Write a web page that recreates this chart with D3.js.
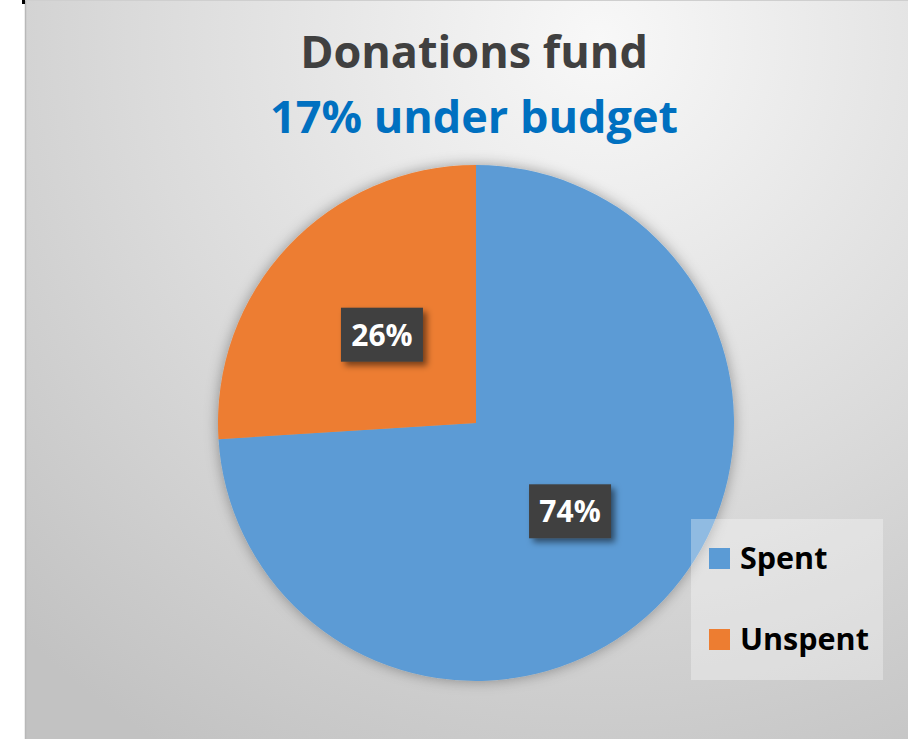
<!DOCTYPE html>
<html>
<head>
<meta charset="utf-8">
<script src="https://cdn.jsdelivr.net/npm/d3@7"></script>
<style>
  html, body { margin: 0; padding: 0; background: #ffffff; }
  svg { display: block; }
  text { font-family: "Open Sans", "Noto Sans", sans-serif; font-weight: 700; }
</style>
</head>
<body>
<svg id="chart" width="908" height="739"></svg>
<script>
// Budget split for the donations fund
const categories = ["Spent", "Unspent"];
const shares = [74, 26];
const colors = ["#5b9bd5", "#ed7d31"];
const titleText = "Donations fund";
const subtitleText = "17% under budget";

const W = 908, H = 739;
const svg = d3.select("#chart");
const defs = svg.append("defs");

// Soft grey background of the chart area
const bg = defs.append("radialGradient")
  .attr("id", "bgGrad")
  .attr("gradientUnits", "userSpaceOnUse")
  .attr("cx", 600).attr("cy", 40).attr("r", 830);
bg.append("stop").attr("offset", "0%").attr("stop-color", "#f8f8f8");
bg.append("stop").attr("offset", "55%").attr("stop-color", "#dbdbdb");
bg.append("stop").attr("offset", "100%").attr("stop-color", "#c2c2c2");

// Halo behind the pie
const halo = defs.append("filter").attr("id", "pieShadow")
  .attr("x", "-20%").attr("y", "-20%").attr("width", "140%").attr("height", "140%");
halo.append("feDropShadow").attr("dx", 0).attr("dy", 0)
  .attr("stdDeviation", 7).attr("flood-color", "#000").attr("flood-opacity", 0.35);

// Shadow under the value boxes
const boxShadow = defs.append("filter").attr("id", "boxShadow")
  .attr("x", "-30%").attr("y", "-30%").attr("width", "160%").attr("height", "160%");
boxShadow.append("feDropShadow").attr("dx", 4).attr("dy", 4)
  .attr("stdDeviation", 3).attr("flood-color", "#000").attr("flood-opacity", 0.5);

const plotX = 25, plotY = 1;
svg.append("rect")
  .attr("x", plotX).attr("y", plotY)
  .attr("width", W - plotX).attr("height", H - plotY)
  .attr("fill", "url(#bgGrad)");
svg.append("line")
  .attr("x1", plotX + 0.5).attr("x2", plotX + 0.5)
  .attr("y1", plotY).attr("y2", H)
  .attr("stroke", "#b8b8b8").attr("stroke-width", 1.5);
svg.append("line")
  .attr("x1", plotX).attr("x2", W)
  .attr("y1", 0.5).attr("y2", 0.5)
  .attr("stroke", "#cfcfcf").attr("stroke-width", 1);
svg.append("rect").attr("x", 22).attr("y", 0).attr("width", 3).attr("height", 4).attr("fill", "#000");

// Titles
svg.append("text")
  .attr("x", 474).attr("y", 68)
  .attr("text-anchor", "middle")
  .attr("font-size", 45)
  .attr("fill", "#404040")
  .text(titleText);
svg.append("text")
  .attr("x", 474).attr("y", 133)
  .attr("text-anchor", "middle")
  .attr("font-size", 45)
  .attr("fill", "#0070c0")
  .text(subtitleText);

// Pie
const cx = 476, cy = 423, radius = 258;
const data = categories.map((c, i) => ({ name: c, value: shares[i], color: colors[i] }));
const pie = d3.pie().value(d => d.value).sort(null);
const arc = d3.arc().innerRadius(0).outerRadius(radius);
const arcs = pie(data);

const g = svg.append("g").attr("transform", `translate(${cx},${cy})`);
g.append("g").attr("filter", "url(#pieShadow)")
  .selectAll("path")
  .data(arcs)
  .join("path")
  .attr("d", arc)
  .attr("fill", d => d.data.color);

// Value boxes at slice centroids
const boxW = 82, boxH = 54;
const labels = g.selectAll("g.lbl")
  .data(arcs)
  .join("g")
  .attr("class", "lbl")
  .attr("transform", d => {
    const [x, y] = arc.centroid(d);
    return `translate(${x},${y})`;
  });
labels.append("rect")
  .attr("x", -boxW / 2).attr("y", -boxH / 2)
  .attr("width", boxW).attr("height", boxH)
  .attr("fill", "#404040")
  .attr("filter", "url(#boxShadow)");
labels.append("text")
  .attr("text-anchor", "middle")
  .attr("y", 11)
  .attr("font-size", 30)
  .attr("fill", "#ffffff")
  .text(d => d.data.value + "%");

// Legend
const legend = svg.append("g");
legend.append("rect")
  .attr("x", 691).attr("y", 519)
  .attr("width", 192).attr("height", 161)
  .attr("fill", "#ffffff").attr("fill-opacity", 0.32);
const rowY = d3.scalePoint().domain(categories).range([548, 629]);
const items = legend.selectAll("g.item")
  .data(data)
  .join("g")
  .attr("class", "item")
  .attr("transform", d => `translate(709,${rowY(d.name)})`);
items.append("rect")
  .attr("width", 21).attr("height", 21)
  .attr("fill", d => d.color);
items.append("text")
  .attr("x", 31).attr("y", 21)
  .attr("font-size", 30.5)
  .attr("fill", "#000000")
  .text(d => d.name);
</script>
</body>
</html>
